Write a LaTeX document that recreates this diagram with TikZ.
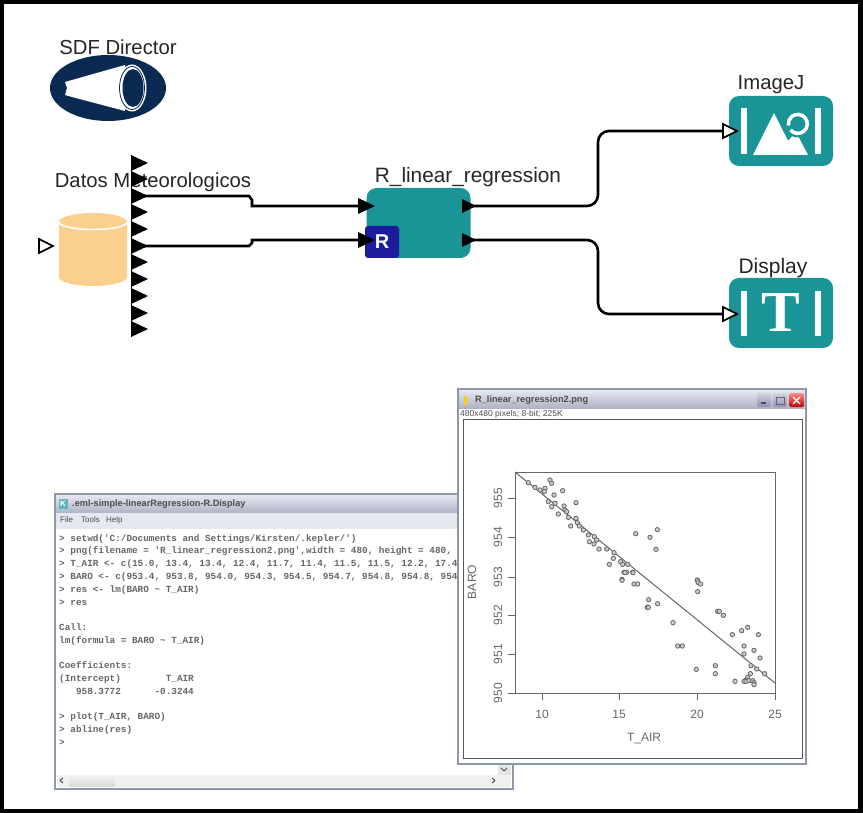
\documentclass[tikz,border=0pt]{standalone}
\usepackage{fontspec}
\setmainfont{Liberation Sans}
\setmonofont{Liberation Mono}
\newfontfamily\serifT{Liberation Serif}
\definecolor{boxteal}{HTML}{1B9498}
\definecolor{dirblue}{HTML}{0B2A52}
\definecolor{dbcolor}{HTML}{FBD08F}
\definecolor{rblue}{HTML}{1C1C9C}
\definecolor{winedge}{HTML}{8E97A8}
\definecolor{plotgray}{HTML}{666666}
\definecolor{rtextgray}{HTML}{666666}
\definecolor{barlight}{HTML}{E6E8F0}
\definecolor{bardark}{HTML}{AEB3C6}
\tikzset{
  actorlabel/.style={font=\fontsize{20.3}{24}\selectfont, text=black!85, inner sep=0pt},
  tealbox/.style={fill=boxteal, rounded corners=10pt, inner sep=0pt, minimum width=104pt, minimum height=70pt},
  wire/.style={line width=2.6pt, black, rounded corners=11pt},
  rline/.style={anchor=base west, inner sep=0pt, text=rtextgray, font=\ttfamily\bfseries\fontsize{9.35}{11}\selectfont},
  ticklabel/.style={inner sep=0pt, text=plotgray, font=\fontsize{12}{14}\selectfont},
  datapt/.style={draw=plotgray, line width=0.8pt, fill=gray!40},
  wintitle/.style={inner sep=0pt, anchor=west, text=black!70},
}
\newcommand{\solidport}[1]{\fill[black] (#1) ++(0,-8) -- ++(17,8) -- ++(-17,8) -- cycle;}
\newcommand{\openport}[1]{\draw[black, line width=1.6pt, fill=white] (#1) ++(-14,-7) -- ++(14,7) -- ++(-14,7) -- cycle;}
\begin{document}
\begin{tikzpicture}[x=1pt,y=-1pt]
    % Frame
    \fill[black] (0,0) rectangle (863,813);
    \fill[white] (4,4) rectangle (858,809);

    % Director
    \node[actorlabel] (dirlabel) at (118,47) {SDF Director};
    \fill[dirblue] (108,88) ellipse (58 and 33);
    \fill[white] (72,80) -- (125,65) -- (125,111) -- (72,97) -- (65,95) -- (67,88) -- (65,82) -- cycle;
    \fill[white] (132,88) ellipse (14.5 and 23.5);
    \draw[dirblue, line width=0.8pt] (132,88) ellipse (12.5 and 21.5);
    \fill[dirblue] (133,88) ellipse (10.5 and 19);

    % Data source
    \node[actorlabel] (datalabel) at (153,182) {Datos Meteorologicos};
    \fill[dbcolor] (59,222) -- (59,277) arc (180:0:34 and 9) -- (127,222) arc (0:-180:34 and 9) -- cycle;
    \draw[white, line width=1.5pt] (59,222) arc (180:0:34 and 7.5);
    \coordinate (datain) at (53,246);
    \openport{datain}

    % Ports of the data source
    \draw[black, line width=1pt] (131,155) -- (131,337);
    \foreach \i/\y in {1/163,2/179,3/196,4/212,5/229,6/246,7/262,8/279,9/296,10/313,11/329} {
        \coordinate (port\i) at (131,\y);
        \solidport{port\i}
    }

    % Regression actor
    \node[actorlabel, font=\fontsize{20.8}{24}\selectfont] (rlabel) at (468,177) {R\_linear\_regression};
    \node[tealbox] (rbox) at (418.5,223) {};
    \node[fill=rblue, rounded corners=3pt, minimum width=34pt, minimum height=32pt, inner sep=0pt,
          text=white, font=\bfseries\fontsize{20}{24}\selectfont] (rbadge) at (382,242) {R};
    \coordinate (rinA) at (358,206);
    \coordinate (rinB) at (358,240);
    \coordinate (routA) at (462,206);
    \coordinate (routB) at (462,240);

    % Output actors
    \node[actorlabel] (imglabel) at (771,85) {ImageJ};
    \node[tealbox] (imgbox) at (781,131) {};
    \node[actorlabel, font=\fontsize{21}{24}\selectfont] (displabel) at (773,268) {Display};
    \node[tealbox] (dispbox) at (781,313) {};
    \fill[white] (741,108) rectangle (747,154);
    \fill[white] (815,108) rectangle (821,154);
    \fill[white] (753,155) -- (774,113) -- (788,141) -- (796,132) -- (808,155) -- cycle;
    \fill[boxteal] (798,124) circle (13.5);
    \draw[white, line width=3.5pt] (790.5,130) arc (140:-190:9.5);
    \fill[white] (741,291) rectangle (747,336);
    \fill[white] (815,291) rectangle (821,336);
    \node[inner sep=0pt, text=white, font=\serifT\bfseries\fontsize{58}{60}\selectfont] (tglyph) at (781,313) {T};

    % Connectors
    \coordinate (bendA) at (598,168);
    \coordinate (bendB) at (598,277);
    \coordinate (imgin) at (737,131);
    \coordinate (dispin) at (737,314);
    \draw[line width=2.6pt, black] (port3) ++(10,0) -- ++(108,0) -- ++(3,4) |- (rinA);
    \draw[line width=2.6pt, black] (port6) ++(10,0) -- ++(108,0) -- ++(3,-3) |- (rinB);
    \draw[wire] (routA) -| (bendA) |- (imgin);
    \draw[wire] (routB) -| (bendB) |- (dispin);
    \fill[black] (rinA) ++(0,-8) -- ++(17,8) -- ++(-17,8) -- cycle;
    \fill[black] (rinB) ++(0,-8) -- ++(17,8) -- ++(-17,8) -- cycle;
    \fill[black] (routA) ++(0,-7) -- ++(14,7) -- ++(-14,7) -- cycle;
    \fill[black] (routB) ++(0,-7) -- ++(14,7) -- ++(-14,7) -- cycle;
    \openport{imgin}
    \openport{dispin}

    % Display window
    \fill[white] (54,493) rectangle (514,790);
    \shade[top color=barlight, bottom color=bardark] (55,495) rectangle (513,513);
    \fill[barlight] (56,513) rectangle (512,529);
    \draw[winedge, line width=2.4pt] (55,494) rectangle (513,789);
    \node[inner sep=0pt, text=white, fill=boxteal!70, minimum width=9pt, minimum height=10pt, font=\bfseries\fontsize{8}{8}\selectfont] (kicon) at (63,504) {K};
    \node[wintitle, font=\bfseries\fontsize{9.2}{11}\selectfont] (wintext) at (72,504) {.eml-simple-linearRegression-R.Display};
    \node[wintitle, font=\fontsize{8}{10}\selectfont] (menufile) at (60,520) {File};
    \node[wintitle, font=\fontsize{8}{10}\selectfont] (menutools) at (81,520) {Tools};
    \node[wintitle, font=\fontsize{8}{10}\selectfont] (menuhelp) at (106,520) {Help};
    \node[rline] (r1) at (59,541) {> setwd('C:/Documents and Settings/Kirsten/.kepler/')};
    \node[rline] (r2) at (59,553) {> png(filename = 'R\_linear\_regression2.png',width = 480, height = 480,};
    \node[rline] (r3) at (59,566) {> T\_AIR <- c(15.0, 13.4, 13.4, 12.4, 11.7, 11.4, 11.5, 11.5, 12.2, 17.4};
    \node[rline] (r4) at (59,579) {> BARO <- c(953.4, 953.8, 954.0, 954.3, 954.5, 954.7, 954.8, 954.8, 954};
    \node[rline] (r5) at (59,592) {> res <- lm(BARO \textasciitilde{} T\_AIR)};
    \node[rline] (r6) at (59,605) {> res};
    \node[rline] (r7) at (59,630) {Call:};
    \node[rline] (r8) at (59,643) {lm(formula = BARO \textasciitilde{} T\_AIR)};
    \node[rline] (r9) at (59,668) {Coefficients:};
    \node[rline] (r10) at (59,681) {(Intercept)\ \ \ \ \ \ \ \ T\_AIR};
    \node[rline] (r11) at (59,694) {\ \ \ 958.3772\ \ \ \ \ \ -0.3244};
    \node[rline] (r12) at (59,719) {> plot(T\_AIR, BARO)};
    \node[rline] (r13) at (59,732) {> abline(res)};
    \node[rline] (r14) at (59,745) {>};

    % Scroll bars
    \fill[gray!12] (57,775) rectangle (511,787);
    \shade[top color=gray!8, bottom color=gray!30] (69,775) rectangle (115,786);
    \fill[gray!20] (498,765) rectangle (511,775);
    \draw[black!70, line width=1pt] (60,780.5) -- (63,778) (60,780.5) -- (63,783);
    \draw[black!70, line width=1pt] (495,780.5) -- (492,778) (495,780.5) -- (492,783);
    \draw[black!70, line width=1pt] (504,771) -- (501,768) (504,771) -- (507,768);

    % Image window
    \fill[white] (457,388) rectangle (807,765);
    \shade[top color=barlight, bottom color=bardark] (458,390) rectangle (806,408);
    \draw[winedge, line width=2.4pt] (458,389) rectangle (806,764);
    \fill[yellow!70!orange] (464,396) rectangle (467,405);
    \node[wintitle, font=\bfseries\fontsize{9.2}{11}\selectfont] (imgtitle) at (475,400) {R\_linear\_regression2.png};
    \node[wintitle, font=\fontsize{8.5}{10}\selectfont] (imgsize) at (460,414) {480x480 pixels; 8-bit; 225K};
    \draw[black!65, line width=1pt] (463,419) rectangle (802,758);
    \shade[top color=blue!10!gray!30, bottom color=blue!25!gray!70, rounded corners=1.5pt] (757,393) rectangle (771,407);
    \shade[top color=blue!10!gray!30, bottom color=blue!25!gray!70, rounded corners=1.5pt] (773,393) rectangle (787,407);
    \shade[top color=red!45, bottom color=red!75!black, rounded corners=1.5pt] (789,393) rectangle (804,407);
    \fill[black!70] (761,402) rectangle (766,404);
    \draw[black!60, line width=0.8pt] (776,397) rectangle (784,404);
    \draw[white, line width=1.2pt] (793,397) -- (800,404) (800,397) -- (793,404);

    % Plot axes
    \draw[plotgray, line width=1pt] (515,472) rectangle (775,693);
    \foreach \lab/\xt in {10/542,15/619,20/697,25/775} {
        \draw[plotgray, line width=1pt] (\xt,693) -- (\xt,700);
        \node[ticklabel] (xt\lab) at (\xt,714) {\lab};
    }
    \foreach \lab/\yt in {950/693,951/654,952/615,953/577,954/537,955/498} {
        \draw[plotgray, line width=1pt] (515,\yt) -- (508,\yt);
        \node[ticklabel, rotate=90] (yt\lab) at (498,\yt) {\lab};
    }
    \node[ticklabel] (xlabel) at (644,739) {T\_AIR};
    \node[ticklabel, rotate=90] (ylabel) at (472,582) {BARO};
    \draw[plotgray, line width=1pt] (515,472) -- (775,683);

    % Data points, upper part
    \foreach \a/\b in {235/308,255/322,270/330,285/325,283/335,300/300,305/310,338/332,312/345,295/365,315/370,305/380,342/378,345/390,350/395,378/368,325/402,355/412,378/415,382/428,388/438,362/438,400/450,415/465,418/485,433/470,440/480,432/492,447/507,470/507,492/518,490/535,478/553,512/545,518/553,533/553,522/577,530/577,548/577,557/461,600/472,622/449,618/508,516/598,742/600} {
        \draw[datapt] ({450+\a/3},{380+\b/3}) circle (2.2);
    }
    % Data points, lower part
    \foreach \a/\b in {525/8,549/8,516/31,552/42,563/42,742/32,745/38,752/42,743/65,596/89,592/112,595/112,623/101,669/158,683/228,697/228,739/298,796/287,796/311,803/124,808/124,820/136,847/194,875/182,893/172,925/194,882/228,912/241,882/252,930/264,903/287,920/297,944/311,901/311,893/322,888/330,855/334,882/334,888/334,897/332,908/332,912/338,912/344} {
        \draw[datapt] ({450+\a/3},{570+\b/3}) circle (2.2);
    }
\end{tikzpicture}
\end{document}
